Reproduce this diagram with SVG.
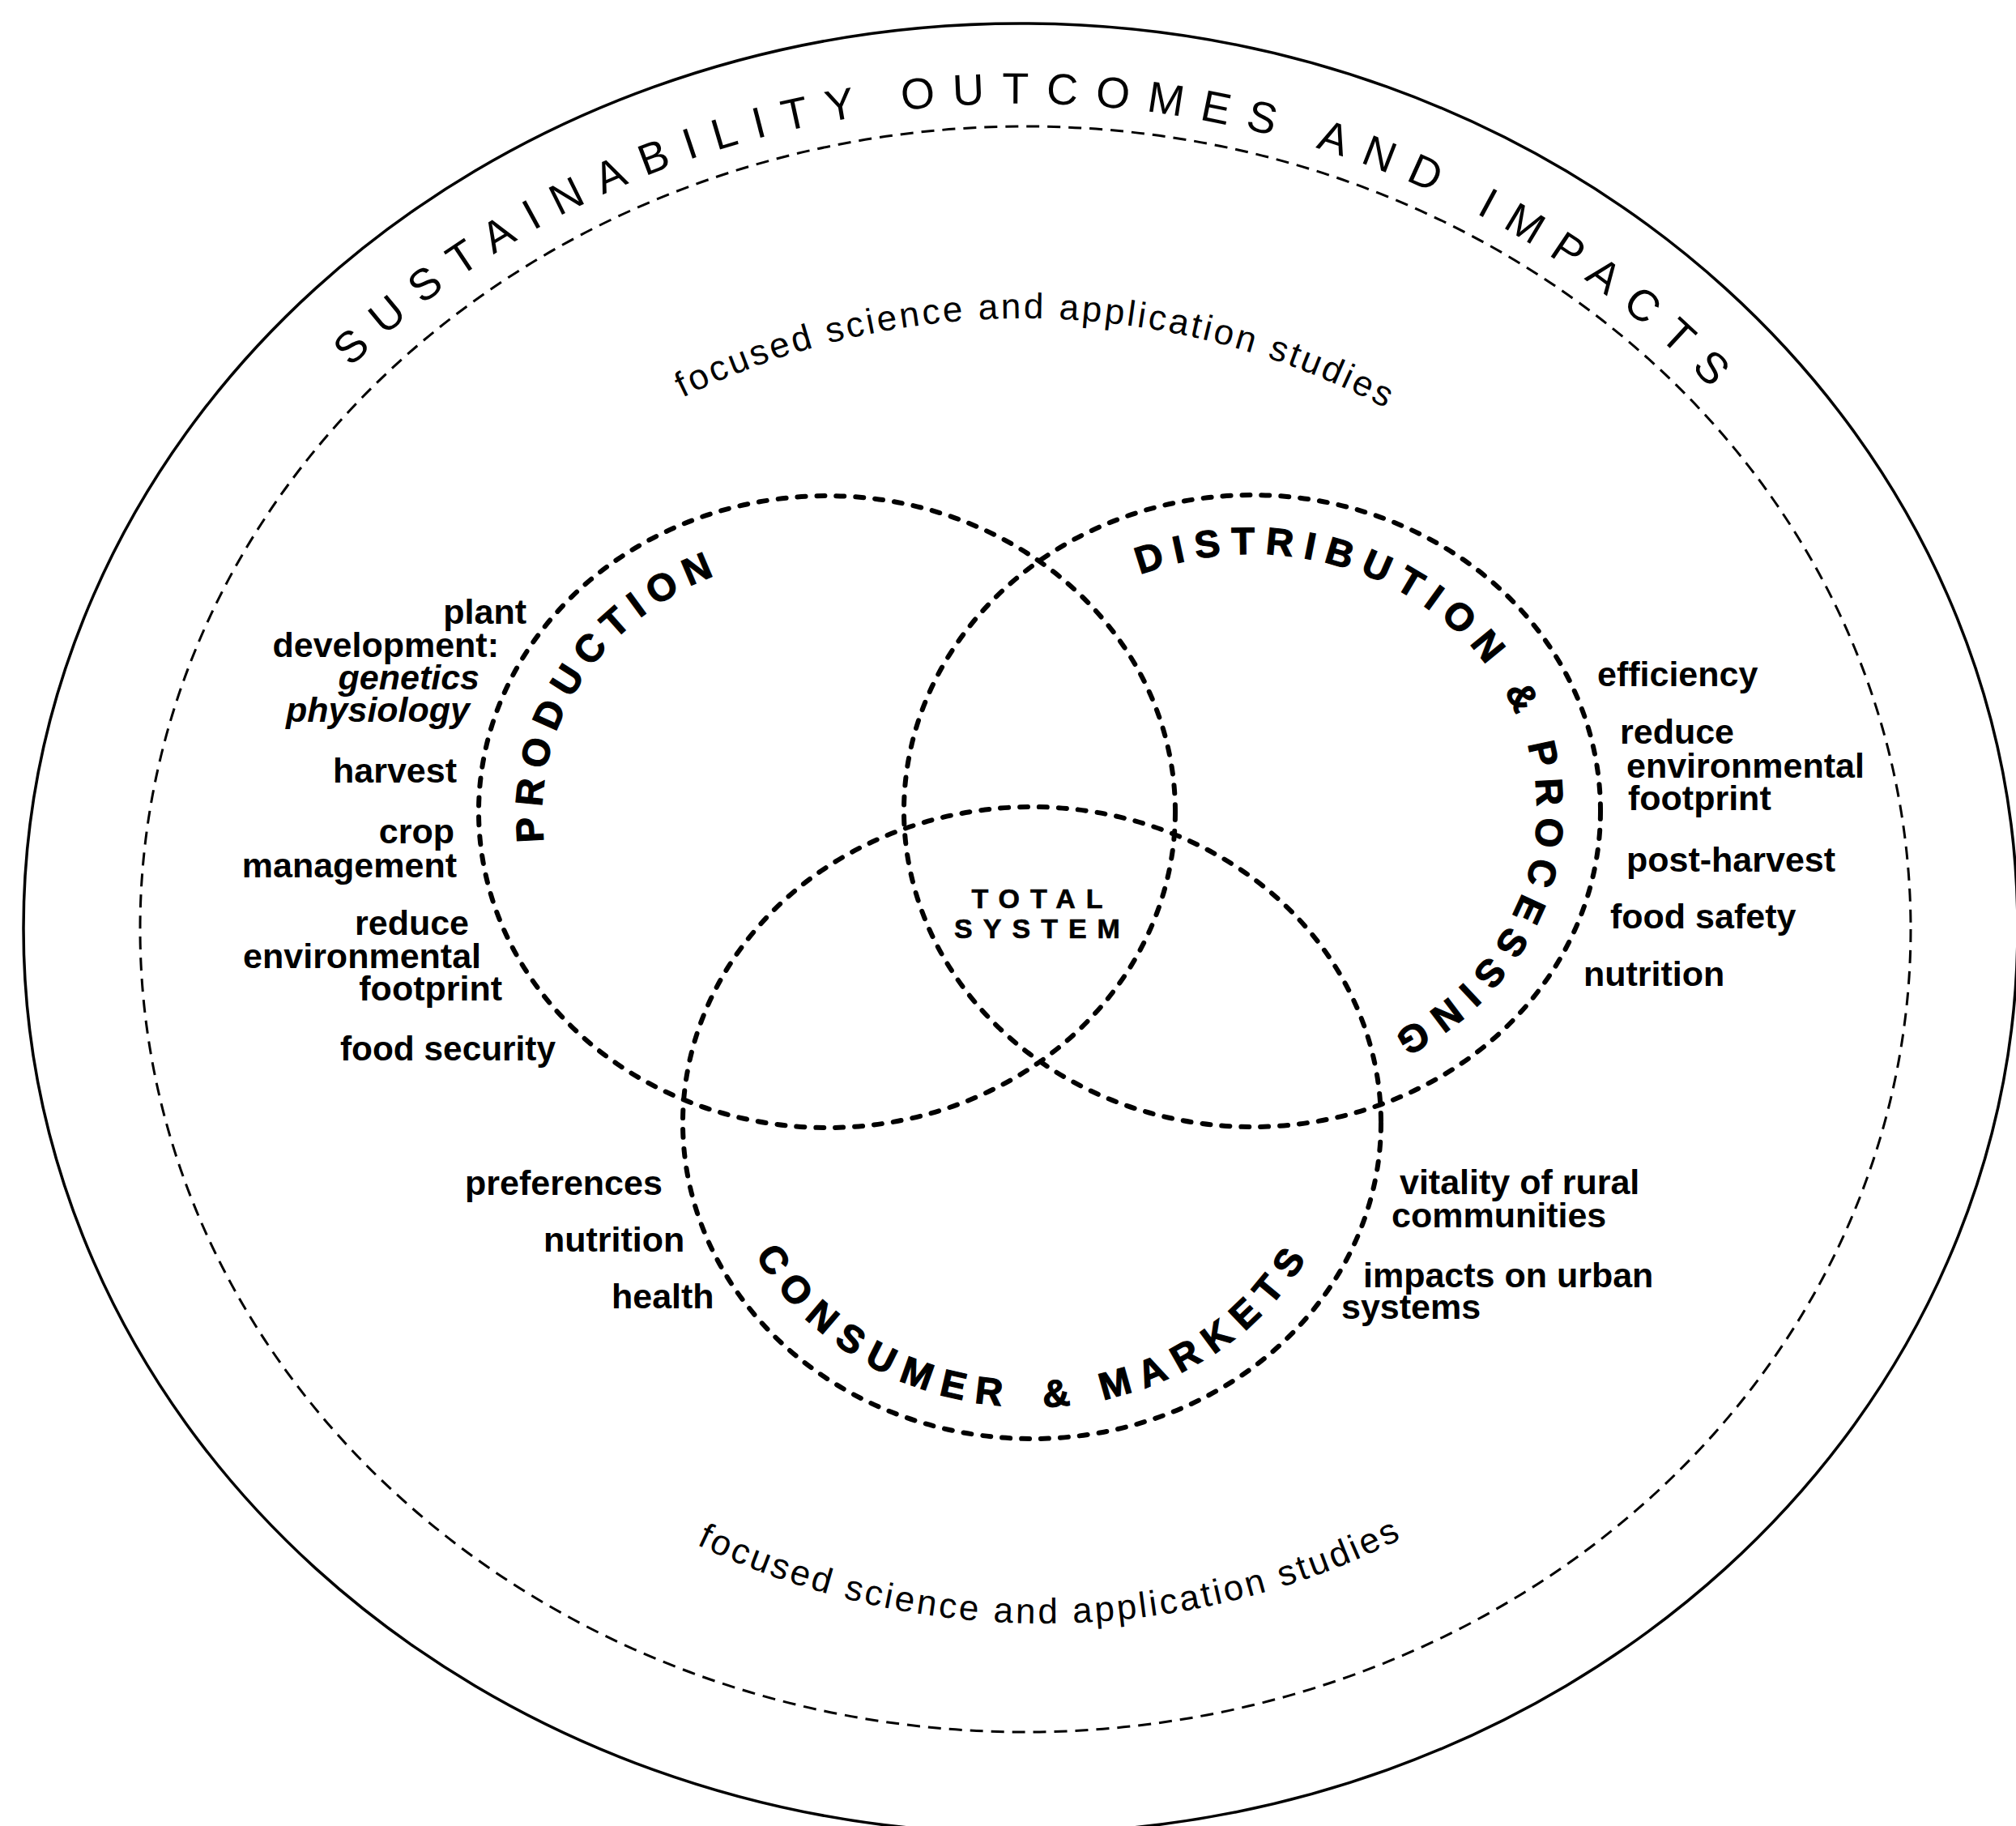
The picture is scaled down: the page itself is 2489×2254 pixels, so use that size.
<svg xmlns="http://www.w3.org/2000/svg" width="2489" height="2254" viewBox="0 0 2489 2254">
<style>
text{font-family:"Liberation Sans",Arial,Helvetica,sans-serif;fill:#000}
.lbl{font-size:43px;font-weight:bold}
.end{text-anchor:end}
.it{font-style:italic}
.ring{font-size:47px;font-weight:bold;text-anchor:middle;stroke:#000;stroke-width:1.2px}
.title{font-size:54px;letter-spacing:21.3px;text-anchor:middle}
.study{font-size:44px;letter-spacing:3.3px;text-anchor:middle}
.tot{font-size:34px;font-weight:bold;letter-spacing:13px;text-anchor:middle;stroke:#000;stroke-width:0.6px}
.solid{fill:none;stroke:#000;stroke-width:3.5}
.scope{fill:none;stroke:#000;stroke-width:3;stroke-dasharray:16 10}
.domain{fill:none;stroke:#000;stroke-width:6;stroke-dasharray:10 14;stroke-linecap:round}
</style>
<defs>
<path id="p-title" d="M197.3,804.5 A1128,1018 0 0 1 2342.1,858.6"/>
<path id="p-study-top" d="M373,1005.9 A954,954 0 0 1 2165.7,1035.6"/>
<path id="p-study-bot" d="M361.9,1362.1 A989,989 0 0 0 2220.5,1344.3"/>
<path id="p-prod" d="M716.6,1160.5 A351.5,317 0 0 1 1021,685"/>
<path id="p-dist" d="M1394.7,714.9 A351.5,317 0 0 1 1863.3,864.5 A351.5,317 0 0 1 1697.3,1287.1"/>
<path id="p-cons" d="M888.5,1390.3 A385.5,351 0 0 0 1278.7,1737 A385.5,351 0 0 0 1659.5,1381.7"/>
</defs>
<rect width="2489" height="2254" fill="#fff"/>

<g id="sustainability-outcomes">
<ellipse class="solid" cx="1260" cy="1146" rx="1231" ry="1117"/>
<text class="title"><textPath href="#p-title" startOffset="50%">SUSTAINABILITY OUTCOMES AND IMPACTS</textPath></text>
</g>

<g id="focused-studies">
<ellipse class="scope" cx="1266" cy="1147" rx="1093" ry="991"/>
<text class="study"><textPath href="#p-study-top" startOffset="50%">focused science and application studies</textPath></text>
<text class="study"><textPath href="#p-study-bot" startOffset="50%">focused science and application studies</textPath></text>
</g>

<g id="production">
<ellipse class="domain" cx="1021" cy="1002" rx="430" ry="390"/>
<text class="ring" style="letter-spacing:11.6px"><textPath href="#p-prod" startOffset="50%">PRODUCTION</textPath></text>
</g>

<g id="distribution-processing">
<ellipse class="domain" cx="1546" cy="1001" rx="430" ry="390"/>
<text class="ring" style="letter-spacing:12.6px"><textPath href="#p-dist" startOffset="50%">DISTRIBUTION &amp; PROCESSING</textPath></text>
</g>

<g id="consumer-markets">
<ellipse class="domain" cx="1274" cy="1386" rx="431" ry="390"/>
<text class="ring" style="letter-spacing:13.6px"><textPath href="#p-cons" startOffset="50%">CONSUMER <tspan dx="12">&amp;</tspan> MARKETS</textPath></text>
</g>

<g id="total-system">
<text class="tot" x="1287" y="1121">TOTAL</text>
<text class="tot" x="1287" y="1158">SYSTEM</text>
</g>

<g id="production-labels">
<text class="lbl end" x="650" y="770">plant</text>
<text class="lbl end" x="616" y="811">development:</text>
<text class="lbl end it" x="592" y="851">genetics</text>
<text class="lbl end it" x="580" y="891">physiology</text>
<text class="lbl end" x="564" y="966">harvest</text>
<text class="lbl end" x="561" y="1041">crop</text>
<text class="lbl end" x="564" y="1083">management</text>
<text class="lbl end" x="579" y="1154">reduce</text>
<text class="lbl end" x="594" y="1195">environmental</text>
<text class="lbl end" x="620" y="1235">footprint</text>
<text class="lbl end" x="686" y="1309" textLength="266" lengthAdjust="spacingAndGlyphs">food security</text>
</g>

<g id="distribution-labels">
<text class="lbl" x="1972" y="847">efficiency</text>
<text class="lbl" x="2000" y="918">reduce</text>
<text class="lbl" x="2008" y="960">environmental</text>
<text class="lbl" x="2010" y="1000">footprint</text>
<text class="lbl" x="2008" y="1076">post-harvest</text>
<text class="lbl" x="1988" y="1146">food safety</text>
<text class="lbl" x="1955" y="1217">nutrition</text>
</g>

<g id="consumer-labels">
<text class="lbl" x="574" y="1475">preferences</text>
<text class="lbl" x="671" y="1545">nutrition</text>
<text class="lbl" x="755" y="1615">health</text>
<text class="lbl" x="1728" y="1474">vitality of rural</text>
<text class="lbl" x="1718" y="1515">communities</text>
<text class="lbl" x="1683" y="1589">impacts on urban</text>
<text class="lbl" x="1656" y="1628">systems</text>
</g>

<g id="connectors"/>
</svg>
